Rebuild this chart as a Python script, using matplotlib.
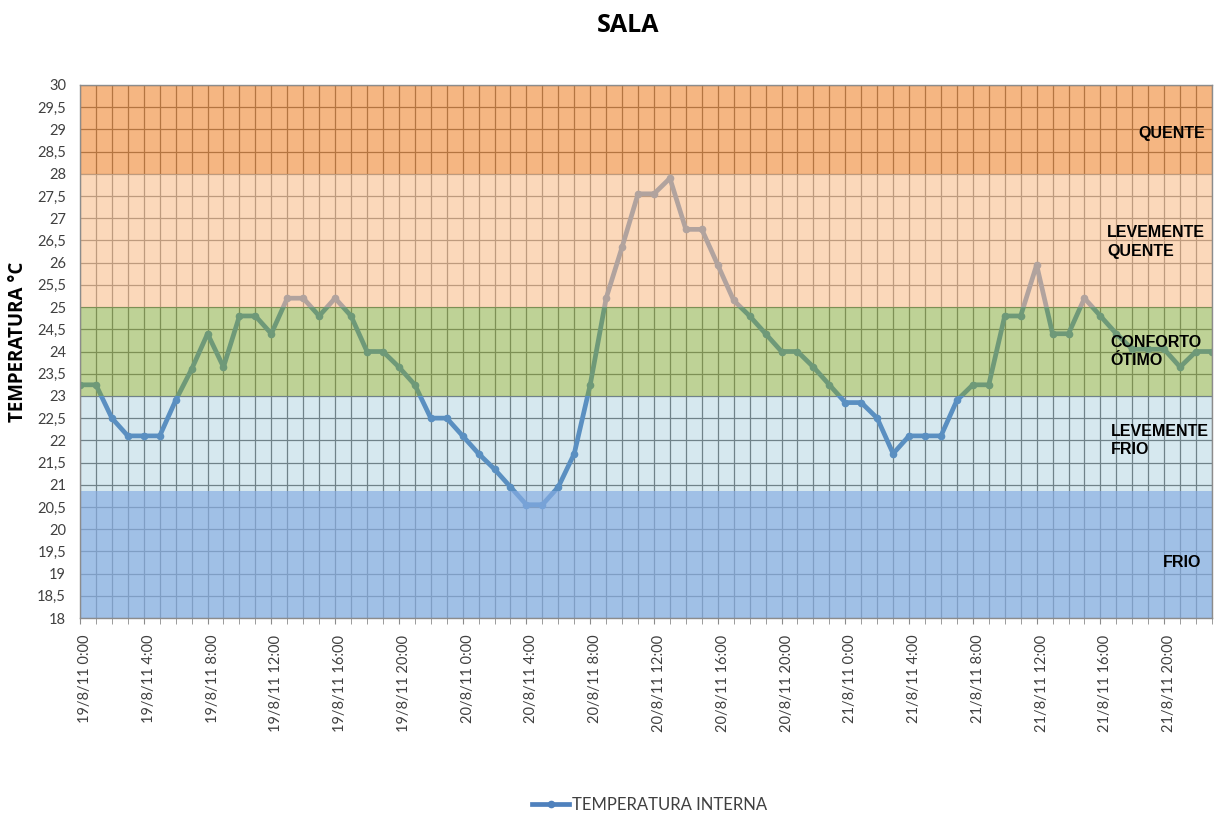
import numpy as np
import matplotlib
matplotlib.use("Agg")
from matplotlib import pyplot as plt
from matplotlib.ticker import MultipleLocator
from matplotlib.transforms import ScaledTranslation

# hourly readings, 19/8/11 0:00 .. 21/8/11 23:00
temperatura = [23.25, 23.25, 22.5, 22.1, 22.1, 22.1, 22.9, 23.6, 24.4, 23.65,
               24.8, 24.8, 24.4, 25.2, 25.2, 24.8, 25.2, 24.8, 24.0, 24.0,
               23.65, 23.25, 22.5, 22.5, 22.1, 21.7, 21.35, 20.95, 20.55, 20.55,
               20.95, 21.7, 23.25, 25.2, 26.35, 27.55, 27.55, 27.9, 26.75, 26.75,
               25.95, 25.15, 24.8, 24.4, 24.0, 24.0, 23.65, 23.25, 22.85, 22.85,
               22.5, 21.7, 22.1, 22.1, 22.1, 22.9, 23.25, 23.25, 24.8, 24.8,
               25.95, 24.4, 24.4, 25.2, 24.8, 24.4, 24.05, 24.05, 24.05, 23.65,
               24.0, 24.0]
horas = np.arange(len(temperatura))

rotulos_x = ["19/8/11 0:00", "19/8/11 4:00", "19/8/11 8:00", "19/8/11 12:00",
             "19/8/11 16:00", "19/8/11 20:00", "20/8/11 0:00", "20/8/11 4:00",
             "20/8/11 8:00", "20/8/11 12:00", "20/8/11 16:00", "20/8/11 20:00",
             "21/8/11 0:00", "21/8/11 4:00", "21/8/11 8:00", "21/8/11 12:00",
             "21/8/11 16:00", "21/8/11 20:00"]
pos_rotulos = np.arange(0, 72, 4)

# comfort zones (lower, upper, colour, opacity)
faixas_lim = [(18, 20.85), (20.85, 23), (23, 25), (25, 28), (28, 30)]
faixas_cor = ["#84ADDF", "#75B3CB", "#89AD40", "#F9BC89", "#ED7A1C"]
faixas_alpha = [0.77, 0.29, 0.55, 0.58, 0.55]
faixas_nome = ["FRIO", "LEVEMENTE\nFRIO", "CONFORTO\nÓTIMO", "LEVEMENTE\nQUENTE", "QUENTE"]
faixas_txt_y = [19.26, 22.0, 24.0, 26.47, 28.9]
faixas_txt_x = [1163, 1111, 1110, 1107, 1138]

fig = plt.figure(figsize=(12.19, 8.15), dpi=100)
ax = fig.add_axes([80 / 1219, 1 - 618 / 815, 1132 / 1219, 533 / 815])

ax.set_xlim(0, len(temperatura) - 1)
ax.set_ylim(18, 30)

# grid first, line on top of it, then the translucent zones over both
yt = np.arange(18, 30.01, 0.5)
ax.set_yticks(yt)
ax.set_xticks(horas, minor=True)
ax.set_xticks(pos_rotulos)
ax.grid(True, which="both", color="#6f6f6f", linewidth=0.9, zorder=1)
ax.set_axisbelow(True)

linha, = ax.plot(horas, temperatura, color="#4F81BD", linewidth=3.4,
                 marker="o", markersize=4.5, zorder=2,
                 label="TEMPERATURA INTERNA")

for (lo, hi), cor, a in zip(faixas_lim, faixas_cor, faixas_alpha):
    ax.axhspan(lo, hi, color=cor, alpha=a, linewidth=0, zorder=3)

for nome, ty, tx in zip(faixas_nome, faixas_txt_y, faixas_txt_x):
    ax.text((tx - 80) / 1132, (ty - 18) / 12, nome, transform=ax.transAxes,
            fontsize=11.5, fontweight="bold", family="Liberation Sans",
            ha="left", va="center", linespacing=1.3, zorder=5)

# y ticks with decimal comma
ax.set_yticklabels([("%g" % v).replace(".", ",") for v in yt],
                   fontsize=10.5, family="Lato", color="#404040")
ax.tick_params(axis="y", length=0, pad=10)

# hourly ticks, labels every 4 hours
ax.set_xticklabels(rotulos_x, rotation=90, fontsize=10.5, family="Lato",
                   color="#404040")
ax.tick_params(axis="x", which="both", length=4, color="#8c8c8c", pad=8)
desloc = ScaledTranslation(5 / 100, 0, fig.dpi_scale_trans)
for lbl in ax.get_xticklabels():
    lbl.set_transform(lbl.get_transform() + desloc)

for s in ax.spines.values():
    s.set_color("#8c8c8c")
    s.set_linewidth(1)
    s.set_zorder(4)

fig.text(18 / 1219, 1 - 342 / 815, "TEMPERATURA °C", fontsize=13.5,
         fontweight="bold", family="Open Sans", rotation=90,
         ha="center", va="center")

fig.text(628 / 1219, 1 - 25 / 815, "SALA", fontsize=18, fontweight="bold",
         family="Open Sans", ha="center", va="center")

fig.legend(handles=[linha], loc="center", bbox_to_anchor=(650 / 1219, 1 - 805 / 815),
           frameon=False, prop={"family": "Lato", "size": 12},
           handlelength=2.2, handletextpad=0.2, labelcolor="#404040")

fig.savefig("out.png", dpi=100)
